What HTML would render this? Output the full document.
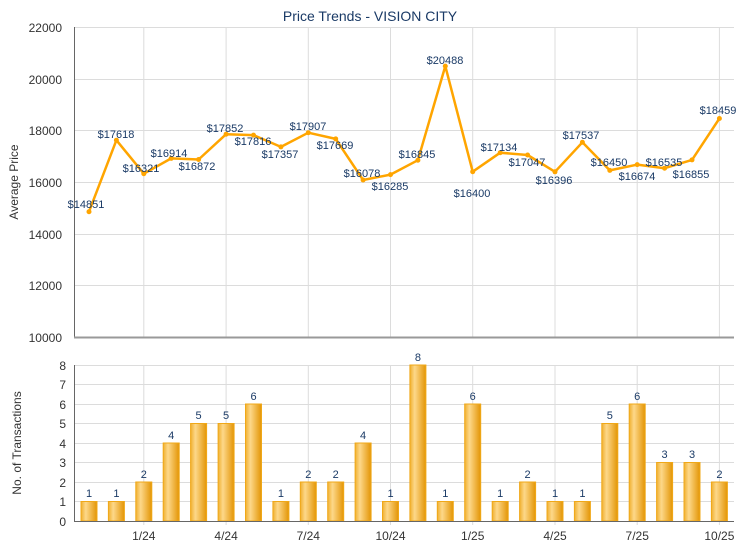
<!DOCTYPE html>
<html><head><meta charset="utf-8"><style>
html,body{margin:0;padding:0;background:#fff;}
svg{display:block;font-family:"Liberation Sans",sans-serif;}
.t{font-size:12px;fill:#333;}
.l{font-size:11px;fill:#1a3a66;text-anchor:middle;}
.g{stroke:#dcdcdc;stroke-width:1;}
</style></head><body>
<svg width="740" height="550" viewBox="0 0 740 550">
<defs>
<linearGradient id="bg" x1="0" x2="1" y1="0" y2="0">
<stop offset="0" stop-color="#f0b030"/><stop offset="0.3" stop-color="#fdd88a"/><stop offset="1" stop-color="#e39505"/>
</linearGradient>
</defs>
<text x="370" y="21" text-anchor="middle" style="font-size:14px;fill:#1a3a66">Price Trends - VISION CITY</text>
<!-- top grid -->
<g class="g">
<line x1="74" x2="734" y1="27.5" y2="27.5"/><line x1="74" x2="734" y1="79.5" y2="79.5"/><line x1="74" x2="734" y1="130.5" y2="130.5"/><line x1="74" x2="734" y1="182.5" y2="182.5"/><line x1="74" x2="734" y1="234.5" y2="234.5"/><line x1="74" x2="734" y1="285.5" y2="285.5"/>
<line x1="143.8" x2="143.8" y1="27" y2="337"/><line x1="226.1" x2="226.1" y1="27" y2="337"/><line x1="308.3" x2="308.3" y1="27" y2="337"/><line x1="390.5" x2="390.5" y1="27" y2="337"/><line x1="472.7" x2="472.7" y1="27" y2="337"/><line x1="555" x2="555" y1="27" y2="337"/><line x1="637.2" x2="637.2" y1="27" y2="337"/><line x1="719.4" x2="719.4" y1="27" y2="337"/>
</g>
<line x1="74.5" x2="74.5" y1="27" y2="337" stroke="#666"/>
<line x1="74" x2="734" y1="337.5" y2="337.5" stroke="#999" stroke-width="2"/>
<g class="t" text-anchor="end">
<text x="62" y="32">22000</text><text x="62" y="84">20000</text><text x="62" y="135">18000</text><text x="62" y="187">16000</text><text x="62" y="239">14000</text><text x="62" y="290">12000</text><text x="62" y="342">10000</text>
</g>
<text transform="translate(18,182) rotate(-90)" text-anchor="middle" style="font-size:12px;fill:#333">Average Price</text>
<polyline fill="none" stroke="#ffa500" stroke-width="2.5" stroke-linejoin="round" points="89,211.7 116.4,140.2 143.8,173.7 171.2,158.4 198.6,159.5 226.1,134.2 253.5,135.1 280.9,146.9 308.3,132.7 335.7,138.9 363.1,180 390.5,174.6 417.9,160.2 445.3,66.1 472.7,171.7 500.2,152.7 527.6,155 555,171.8 582.4,142.3 609.8,170.4 637.2,164.6 664.6,168.2 692,159.9 719.4,118.5"/>
<g fill="#ffa500">
<circle cx="89" cy="211.7" r="2.5"/><circle cx="116.4" cy="140.2" r="2.5"/><circle cx="143.8" cy="173.7" r="2.5"/><circle cx="171.2" cy="158.4" r="2.5"/><circle cx="198.6" cy="159.5" r="2.5"/><circle cx="226.1" cy="134.2" r="2.5"/><circle cx="253.5" cy="135.1" r="2.5"/><circle cx="280.9" cy="146.9" r="2.5"/><circle cx="308.3" cy="132.7" r="2.5"/><circle cx="335.7" cy="138.9" r="2.5"/><circle cx="363.1" cy="180" r="2.5"/><circle cx="390.5" cy="174.6" r="2.5"/><circle cx="417.9" cy="160.2" r="2.5"/><circle cx="445.3" cy="66.1" r="2.5"/><circle cx="472.7" cy="171.7" r="2.5"/><circle cx="500.2" cy="152.7" r="2.5"/><circle cx="527.6" cy="155" r="2.5"/><circle cx="555" cy="171.8" r="2.5"/><circle cx="582.4" cy="142.3" r="2.5"/><circle cx="609.8" cy="170.4" r="2.5"/><circle cx="637.2" cy="164.6" r="2.5"/><circle cx="664.6" cy="168.2" r="2.5"/><circle cx="692" cy="159.9" r="2.5"/><circle cx="719.4" cy="118.5" r="2.5"/>
</g>
<g class="l">
<text x="86" y="208">$14851</text><text x="116" y="138">$17618</text><text x="141" y="172">$16321</text><text x="169" y="157">$16914</text><text x="197" y="170">$16872</text><text x="225" y="132">$17852</text><text x="253" y="145">$17816</text><text x="280" y="158">$17357</text><text x="308" y="130">$17907</text><text x="335" y="149">$17669</text><text x="362" y="177">$16078</text><text x="390" y="190">$16285</text><text x="417" y="158">$16845</text><text x="445" y="64">$20488</text><text x="472" y="197">$16400</text><text x="499" y="151">$17134</text><text x="527" y="166">$17047</text><text x="554" y="184">$16396</text><text x="581" y="139">$17537</text><text x="609" y="166">$16450</text><text x="637" y="180">$16674</text><text x="664" y="166">$16535</text><text x="691" y="178">$16855</text><text x="718" y="114">$18459</text>
</g>
<!-- bottom -->
<g class="g">
<line x1="74" x2="734" y1="365.5" y2="365.5"/><line x1="74" x2="734" y1="384.5" y2="384.5"/><line x1="74" x2="734" y1="404.5" y2="404.5"/><line x1="74" x2="734" y1="423.5" y2="423.5"/><line x1="74" x2="734" y1="443.5" y2="443.5"/><line x1="74" x2="734" y1="462.5" y2="462.5"/><line x1="74" x2="734" y1="482.5" y2="482.5"/><line x1="74" x2="734" y1="501.5" y2="501.5"/>
<line x1="143.8" x2="143.8" y1="365" y2="525"/><line x1="226.1" x2="226.1" y1="365" y2="525"/><line x1="308.3" x2="308.3" y1="365" y2="525"/><line x1="390.5" x2="390.5" y1="365" y2="525"/><line x1="472.7" x2="472.7" y1="365" y2="525"/><line x1="555" x2="555" y1="365" y2="525"/><line x1="637.2" x2="637.2" y1="365" y2="525"/><line x1="719.4" x2="719.4" y1="365" y2="525"/>
</g>
<g fill="url(#bg)" stroke="#f0a818" stroke-width="1">
<rect x="81" y="501.5" width="16" height="19.5"/><rect x="108.4" y="501.5" width="16" height="19.5"/><rect x="135.8" y="482" width="16" height="39"/><rect x="163.2" y="443" width="16" height="78"/><rect x="190.6" y="423.5" width="16" height="97.5"/><rect x="218.1" y="423.5" width="16" height="97.5"/><rect x="245.5" y="404" width="16" height="117"/><rect x="272.9" y="501.5" width="16" height="19.5"/><rect x="300.3" y="482" width="16" height="39"/><rect x="327.7" y="482" width="16" height="39"/><rect x="355.1" y="443" width="16" height="78"/><rect x="382.5" y="501.5" width="16" height="19.5"/><rect x="409.9" y="365" width="16" height="156"/><rect x="437.3" y="501.5" width="16" height="19.5"/><rect x="464.7" y="404" width="16" height="117"/><rect x="492.2" y="501.5" width="16" height="19.5"/><rect x="519.6" y="482" width="16" height="39"/><rect x="547" y="501.5" width="16" height="19.5"/><rect x="574.4" y="501.5" width="16" height="19.5"/><rect x="601.8" y="423.5" width="16" height="97.5"/><rect x="629.2" y="404" width="16" height="117"/><rect x="656.6" y="462.5" width="16" height="58.5"/><rect x="684" y="462.5" width="16" height="58.5"/><rect x="711.4" y="482" width="16" height="39"/>
</g>
<line x1="74.5" x2="74.5" y1="365" y2="521" stroke="#666"/>
<line x1="74" x2="734" y1="521.5" y2="521.5" stroke="#666"/>
<g class="t" text-anchor="end">
<text x="66" y="370">8</text><text x="66" y="389">7</text><text x="66" y="409">6</text><text x="66" y="428">5</text><text x="66" y="448">4</text><text x="66" y="467">3</text><text x="66" y="487">2</text><text x="66" y="506">1</text><text x="66" y="526">0</text>
</g>
<text transform="translate(21,443) rotate(-90)" text-anchor="middle" style="font-size:12px;fill:#333">No. of Transactions</text>
<g class="t" text-anchor="middle">
<text x="143.8" y="540">1/24</text><text x="226.1" y="540">4/24</text><text x="308.3" y="540">7/24</text><text x="390.5" y="540">10/24</text><text x="472.7" y="540">1/25</text><text x="555" y="540">4/25</text><text x="637.2" y="540">7/25</text><text x="719.4" y="540">10/25</text>
</g>
<g class="l">
<text x="89" y="497">1</text><text x="116.4" y="497">1</text><text x="143.8" y="478">2</text><text x="171.2" y="439">4</text><text x="198.6" y="419">5</text><text x="226.1" y="419">5</text><text x="253.5" y="400">6</text><text x="280.9" y="497">1</text><text x="308.3" y="478">2</text><text x="335.7" y="478">2</text><text x="363.1" y="439">4</text><text x="390.5" y="497">1</text><text x="417.9" y="361">8</text><text x="445.3" y="497">1</text><text x="472.7" y="400">6</text><text x="500.2" y="497">1</text><text x="527.6" y="478">2</text><text x="555" y="497">1</text><text x="582.4" y="497">1</text><text x="609.8" y="419">5</text><text x="637.2" y="400">6</text><text x="664.6" y="458">3</text><text x="692" y="458">3</text><text x="719.4" y="478">2</text>
</g>
</svg>
</body></html>
